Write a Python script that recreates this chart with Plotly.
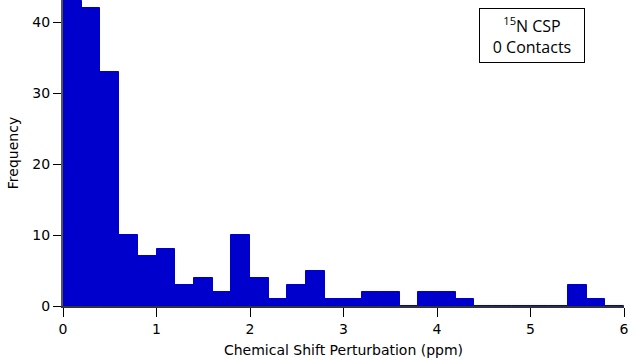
import plotly.graph_objects as go

bin_starts = [round(0.2 * i, 1) for i in range(30)]
counts = [43, 42, 33, 10, 7, 8, 3, 4, 2, 10,
          4, 1, 3, 5, 1, 1, 2, 2, 0, 2,
          2, 1, 0, 0, 0, 0, 0, 3, 1, 0]
bin_width = 0.2
x_ticks = [0, 1, 2, 3, 4, 5, 6]
y_ticks = [0, 10, 20, 30, 40]

centers = [b + bin_width / 2 for b in bin_starts]
blue = "#0000CC"
font = "DejaVu Sans"

L, R, T, B = 63, 16, 0, 54
W, H = 640, 360

fig = go.Figure()
fig.add_trace(go.Bar(
    x=centers, y=counts, width=bin_width,
    marker=dict(color=blue, line=dict(color=blue, width=1)),
    showlegend=False,
))

fig.update_layout(
    width=W, height=H,
    margin=dict(l=L, r=R, t=T, b=B, autoexpand=False),
    plot_bgcolor="white", paper_bgcolor="white",
    bargap=0,
    font=dict(family=font, size=14, color="black"),
    xaxis=dict(
        range=[0, 6], tickvals=x_ticks, ticks="outside", ticklen=9, tickwidth=1.2,
        tickcolor="black", showline=True, linecolor="#333", linewidth=1.5,
        showgrid=False, zeroline=False, automargin=False,
        title=dict(text="Chemical Shift Perturbation (ppm)", standoff=10,
                   font=dict(size=14)),
        tickfont=dict(size=14),
    ),
    yaxis=dict(
        range=[0, 43.1], tickvals=y_ticks, ticks="outside", ticklen=8, tickwidth=1.2,
        tickcolor="black", showline=True, linecolor="#555", linewidth=2,
        showgrid=False, zeroline=False, automargin=False,
        title=dict(text="Frequency", standoff=10, font=dict(size=14)),
        tickfont=dict(size=14),
    ),
    annotations=[dict(
        x=(532 - L) / (W - L - R), y=1 - 35.5 / (H - T - B),
        xref="paper", yref="paper", xanchor="center", yanchor="middle",
        text="<sup>15</sup>N CSP<br>0 Contacts",
        showarrow=False, align="center", valign="middle", width=100, height=49,
        font=dict(family="Open Sans", size=16, color="black"),
        bordercolor="black", borderwidth=1, borderpad=2, bgcolor="white",
    )],
)

fig.write_html("out.html", config={"displayModeBar": False},
               post_script="document.body.style.margin='0';document.body.style.overflow='hidden';")
